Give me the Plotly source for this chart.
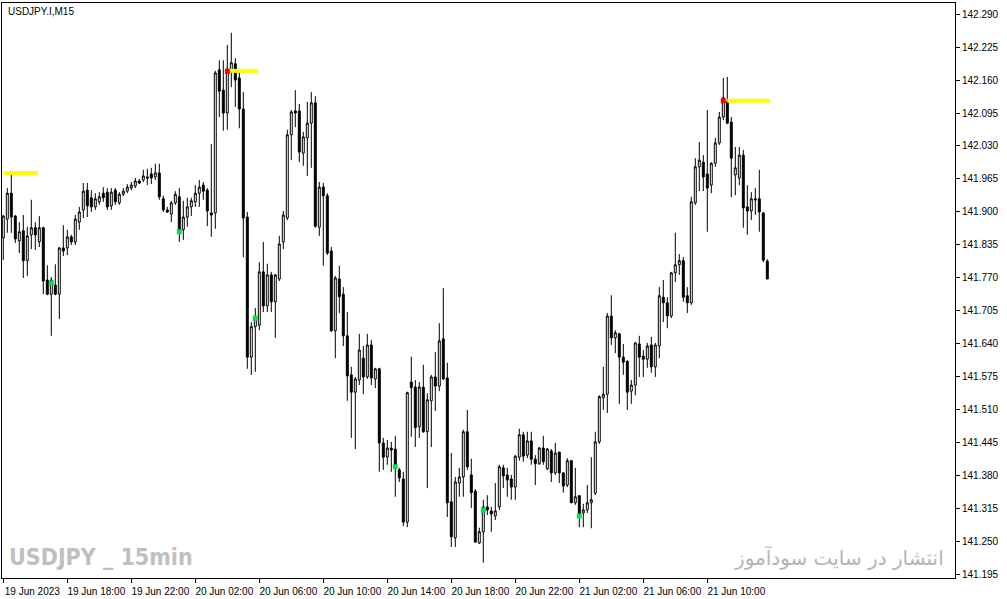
import plotly.graph_objects as go

# ---------------- data (USDJPY.I, M15, 15-minute bars from 19 Jun 14:00) ----------------
opens = [141.849,141.886,141.937,141.892,141.843,141.863,141.804,141.855,141.869,141.841,
         141.869,141.766,141.738,141.756,141.738,141.829,141.829,141.851,141.841,141.880,
         141.904,141.943,141.928,141.910,141.920,141.937,141.939,141.912,141.943,141.918,
         141.935,141.941,141.947,141.951,141.961,141.963,141.969,141.975,141.969,141.977,
         141.926,141.904,141.896,141.918,141.930,141.865,141.890,141.910,141.920,141.937,
         141.953,141.943,141.898,141.898,142.180,142.140,142.095,142.180,142.192,142.164,
         142.103,141.890,141.614,141.674,141.677,141.782,141.715,141.776,141.723,141.768,
         141.841,141.888,142.052,142.099,142.099,142.016,142.046,142.075,142.115,141.870,
         141.949,141.932,141.823,141.666,141.768,141.738,141.656,141.579,141.545,141.569,
         141.612,141.575,141.638,141.571,141.591,141.445,141.417,141.435,141.433,141.392,
         141.374,141.289,141.565,141.555,141.477,141.555,141.467,141.528,141.575,141.557,
         141.650,141.573,141.329,141.258,141.366,141.378,141.467,141.382,141.350,141.248,
         141.270,141.319,141.311,141.301,141.319,141.396,141.382,141.374,141.358,141.417,
         141.461,141.421,141.449,141.413,141.404,141.435,141.394,141.429,141.386,141.427,
         141.386,141.362,141.410,141.327,141.341,141.307,141.313,141.327,141.346,141.447,
         141.534,141.541,141.695,141.652,141.660,141.614,141.606,141.547,141.559,141.640,
         141.616,141.610,141.638,141.595,141.636,141.732,141.721,141.695,141.780,141.796,
         141.804,141.735,141.721,141.918,141.989,141.998,141.975,141.953,141.996,142.036,
         142.087,142.117,142.077,141.973,141.967,142.012,141.910,141.902,141.926,141.926,
         141.898,141.803]

highs = [141.894,141.947,141.975,141.894,141.880,141.894,141.871,141.924,141.880,141.892,
         141.871,141.795,141.772,141.797,141.831,141.874,141.865,141.855,141.894,141.910,
         141.957,141.957,141.943,141.937,141.939,141.949,141.947,141.947,141.947,141.939,
         141.947,141.955,141.959,141.967,141.965,141.983,141.985,141.987,141.995,141.995,
         141.932,141.910,141.922,141.941,141.947,141.922,141.928,141.928,141.953,141.963,
         141.959,141.947,142.034,142.178,142.199,142.199,142.229,142.253,142.203,142.176,
         142.136,141.900,141.683,141.711,141.801,141.841,141.798,141.782,141.778,141.853,
         141.902,142.062,142.101,142.140,142.113,142.058,142.117,142.136,142.128,141.959,
         141.957,141.937,141.831,141.774,141.794,141.752,141.703,141.595,141.575,141.660,
         141.636,141.660,141.648,141.593,141.593,141.455,141.451,141.447,141.459,141.396,
         141.388,141.546,141.615,141.569,141.565,141.599,141.543,141.579,141.624,141.681,
         141.750,141.603,141.425,141.378,141.396,141.471,141.510,141.414,141.354,141.278,
         141.333,141.342,141.319,141.366,141.402,141.402,141.396,141.382,141.421,141.473,
         141.467,141.467,141.467,141.421,141.437,141.459,141.435,141.433,141.445,141.427,
         141.388,141.415,141.411,141.396,141.342,141.325,141.362,141.417,141.467,141.539,
         141.595,141.701,141.736,141.667,141.662,141.640,141.608,141.569,141.644,141.656,
         141.628,141.642,141.654,141.642,141.752,141.766,141.732,141.782,141.859,141.817,
         141.811,141.752,141.930,142.006,142.038,142.012,142.101,141.998,142.046,142.097,
         142.164,142.166,142.087,142.028,142.028,142.022,141.953,141.939,141.947,141.983,
         141.900,141.807]

lows = [141.805,141.859,141.859,141.839,141.819,141.770,141.774,141.827,141.825,141.831,
        141.738,141.736,141.656,141.736,141.689,141.813,141.815,141.835,141.835,141.865,
        141.888,141.890,141.900,141.904,141.914,141.920,141.904,141.904,141.914,141.914,
        141.931,141.937,141.943,141.947,141.955,141.959,141.953,141.955,141.963,141.924,
        141.900,141.898,141.880,141.914,141.841,141.845,141.871,141.892,141.910,141.910,
        141.924,141.872,141.851,141.867,142.087,142.060,142.062,142.146,142.107,142.065,
        141.811,141.591,141.579,141.585,141.667,141.703,141.703,141.703,141.652,141.764,
        141.827,141.884,142.002,142.067,141.998,141.991,141.971,141.987,141.869,141.853,
        141.794,141.815,141.664,141.612,141.701,141.636,141.528,141.455,141.433,141.559,
        141.541,141.571,141.559,141.553,141.388,141.392,141.402,141.388,141.339,141.368,
        141.281,141.279,141.457,141.437,141.455,141.465,141.356,141.437,141.508,141.547,
        141.569,141.299,141.240,141.240,141.339,141.339,141.392,141.317,141.248,141.246,
        141.209,141.303,141.270,141.293,141.313,141.356,141.339,141.333,141.333,141.410,
        141.408,141.415,141.402,141.362,141.402,141.402,141.392,141.368,141.382,141.366,
        141.347,141.358,141.327,141.323,141.279,141.279,141.307,141.277,141.342,141.443,
        141.510,141.504,141.638,141.622,141.522,141.579,141.510,141.522,141.539,141.575,
        141.575,141.593,141.583,141.575,141.612,141.683,141.671,141.691,141.762,141.776,
        141.723,141.701,141.717,141.914,141.941,141.941,141.861,141.937,141.989,142.032,
        142.081,142.073,141.929,141.933,141.953,141.869,141.855,141.884,141.894,141.861,
        141.801,141.768]

closes = [141.892,141.937,141.890,141.847,141.861,141.804,141.853,141.869,141.855,141.869,
          141.764,141.738,141.766,141.738,141.829,141.823,141.851,141.841,141.886,141.900,
          141.941,141.912,141.910,141.926,141.930,141.928,141.910,141.939,141.920,141.935,
          141.941,141.949,141.953,141.961,141.957,141.971,141.967,141.967,141.977,141.930,
          141.904,141.900,141.918,141.935,141.861,141.890,141.910,141.922,141.937,141.949,
          141.941,141.902,141.894,142.174,142.138,142.095,142.182,142.194,142.160,142.103,
          141.888,141.614,141.674,141.693,141.782,141.715,141.776,141.723,141.776,141.837,
          141.894,142.052,142.097,142.095,142.018,142.048,142.075,142.115,141.872,141.949,
          141.932,141.819,141.666,141.770,141.733,141.656,141.577,141.545,141.571,141.628,
          141.575,141.638,141.573,141.591,141.445,141.417,141.435,141.431,141.398,141.376,
          141.289,141.544,141.554,141.475,141.555,141.467,141.530,141.575,141.557,141.646,
          141.571,141.327,141.260,141.368,141.378,141.467,141.398,141.347,141.250,141.270,
          141.319,141.313,141.305,141.311,141.398,141.380,141.372,141.358,141.419,141.461,
          141.419,141.449,141.413,141.404,141.435,141.408,141.433,141.386,141.425,141.386,
          141.360,141.410,141.327,141.339,141.303,141.313,141.327,141.333,141.447,141.536,
          141.541,141.695,141.652,141.662,141.614,141.604,141.545,141.559,141.642,141.614,
          141.610,141.636,141.595,141.638,141.735,141.721,141.695,141.780,141.796,141.804,
          141.732,141.721,141.920,141.989,142.002,141.969,141.947,141.996,142.036,142.087,
          142.125,142.075,142.006,141.987,142.012,141.908,141.902,141.926,141.924,141.900,
          141.805,141.768]

# time axis: bar index of each labelled time, and its label
time_tick_bars = [0, 16, 32, 48, 64, 80, 96, 112, 128, 144, 160, 176]
time_tick_labels = ["19 Jun 2023", "19 Jun 18:00", "19 Jun 22:00", "20 Jun 02:00",
                    "20 Jun 06:00", "20 Jun 10:00", "20 Jun 14:00", "20 Jun 18:00",
                    "20 Jun 22:00", "21 Jun 02:00", "21 Jun 06:00", "21 Jun 10:00"]

# price axis labels
price_ticks = [142.290, 142.225, 142.160, 142.095, 142.030, 141.965, 141.900, 141.835,
               141.770, 141.705, 141.640, 141.575, 141.510, 141.445, 141.380, 141.315,
               141.250, 141.185]
price_tick_labels = ["142.290", "142.225", "142.160", "142.095", "142.030", "141.965",
                     "141.900", "141.835", "141.770", "141.705", "141.640", "141.575",
                     "141.510", "141.445", "141.380", "141.315", "141.250", "141.195"]

# indicator: yellow levels (price, first bar, last bar)
level_prices = [141.977, 142.178, 142.119]
level_first_bar = [0, 56, 181]
level_last_bar = [8.7, 63.7, 191.7]

# indicator: red (top) and green (bottom) signal dots
red_bars = [56, 180]
red_prices = [142.177, 142.119]
green_bars = [12, 44, 63, 98, 120, 144]
green_prices = [141.760, 141.861, 141.691, 141.398, 141.313, 141.301]

# ---------------- figure ----------------
bars = list(range(len(opens)))
FONT = "Liberation Sans"

fig = go.Figure()
fig.add_trace(go.Candlestick(
    x=bars, open=opens, high=highs, low=lows, close=closes,
    increasing=dict(line=dict(color="black", width=1), fillcolor="white"),
    decreasing=dict(line=dict(color="black", width=1), fillcolor="black"),
    whiskerwidth=0, showlegend=False, hoverinfo="skip",
))

lx, ly = [], []
for p, a, b in zip(level_prices, level_first_bar, level_last_bar):
    lx += [a, b, None]
    ly += [p, p, None]
fig.add_trace(go.Scatter(x=lx, y=ly, mode="lines", line=dict(color="#ffff00", width=4),
                         showlegend=False, hoverinfo="skip"))
fig.add_trace(go.Scatter(x=red_bars, y=red_prices, mode="markers",
                         marker=dict(symbol="square", size=5, color="#ff0000",
                                     line=dict(width=0)),
                         showlegend=False, hoverinfo="skip"))
fig.add_trace(go.Scatter(x=green_bars, y=green_prices, mode="markers",
                         marker=dict(symbol="square", size=5, color="#00e640",
                                     line=dict(width=0)),
                         showlegend=False, hoverinfo="skip"))

fig.update_layout(
    width=1007, height=599,
    margin=dict(l=2, r=52, t=3, b=21),
    paper_bgcolor="white", plot_bgcolor="white",
    boxgap=0.3,
    font=dict(family=FONT, size=10, color="black"),
    xaxis=dict(
        range=[-0.325, 237.925], rangeslider=dict(visible=False),
        showgrid=False, zeroline=False,
        showline=True, linecolor="black", linewidth=1, mirror=True,
        tickmode="array", tickvals=time_tick_bars, ticktext=time_tick_labels,
        ticks="outside", ticklen=4, tickcolor="black", tickwidth=1,
        ticklabelshift=29, ticklabelstandoff=0,
        tickfont=dict(family=FONT, size=10, color="black"),
        fixedrange=True,
    ),
    yaxis=dict(
        range=[141.1789, 142.3117], side="right",
        showgrid=False, zeroline=False,
        showline=True, linecolor="black", linewidth=1, mirror=True,
        tickmode="array", tickvals=price_ticks, ticktext=price_tick_labels,
        ticks="outside", ticklen=4, tickcolor="black", tickwidth=1,
        tickfont=dict(family=FONT, size=10, color="black"),
        fixedrange=True,
    ),
    annotations=[
        dict(text="USDJPY.I,M15", xref="paper", yref="paper", x=0.004, y=1,
             xanchor="left", yanchor="top", yshift=-1, showarrow=False,
             font=dict(family=FONT, size=10, color="#000000")),
        dict(text="<b>USDJPY _ 15min</b>", xref="paper", yref="paper", x=0.005, y=0.036,
             xanchor="left", yanchor="middle", showarrow=False,
             font=dict(family="DejaVu Sans Condensed, DejaVu Sans", size=23,
                       color="#c0c0c0")),
        dict(text="انتشار در سایت سودآموز", xref="paper", yref="paper", x=0.9906, y=0.036,
             xanchor="right", yanchor="middle", showarrow=False,
             font=dict(family="DejaVu Sans", size=20, color="#b4b4b4")),
    ],
)

fig.write_html("out.html", config={"displayModeBar": False, "staticPlot": True},
               post_script="document.body.style.margin='0';document.body.style.overflow='hidden';")
